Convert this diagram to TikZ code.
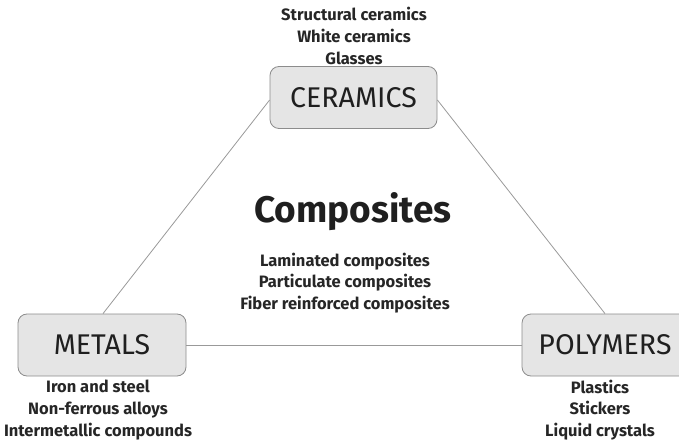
\documentclass[tikz,border=0pt]{standalone}
\usepackage{fontspec}
\setmainfont{Fira Sans}
\begin{document}
\begin{tikzpicture}[x=1pt,y=-1pt,
  family/.style={draw=black!45, fill=black!10, rounded corners=9pt, line width=0.8pt,
    minimum height=62pt, inner sep=0pt, font=\fontsize{28.5}{30}\selectfont, text=black!88},
  members/.style={align=center, font=\bfseries\fontsize{16.5}{21.7}\selectfont, text=black!85},
  link/.style={draw=black!40, line width=0.8pt}]
\useasboundingbox (0,0) rectangle (679,443);
\begin{scope}
\clip (0,0) rectangle (679,443);
\node[family, minimum width=167pt] (cer) at (353.5,97.5) {CERAMICS};
\node[family, minimum width=168pt] (met) at (102,345) {METALS};
\node[family, minimum width=175pt] (pol) at (609.5,345) {\hspace*{-9pt}POLYMERS};
\end{scope}
\node[members] (certxt) at (354,36) {Structural ceramics\\White ceramics\\Glasses};
\node[members] (mettxt) at (98,410) {Iron and steel\\Non-ferrous alloys\\Intermetallic compounds};
\node[members] (poltxt) at (600,410) {Plastics\\Stickers\\Liquid crystals};
\node[font=\bfseries\fontsize{37}{40}\selectfont, text=black!88] (comp) at (353,212) {Composites};
\node[members] (comptxt) at (345,283) {Laminated composites\\Particulate composites\\Fiber reinforced composites};
\draw[link] (cer.west |- 0,100) -- (met.north -| 103,0);
\draw[link] (cer.east |- 0,100) -- (pol.north -| 605,0);
\draw[link] (met.east) -- (pol.west);
\end{tikzpicture}
\end{document}
